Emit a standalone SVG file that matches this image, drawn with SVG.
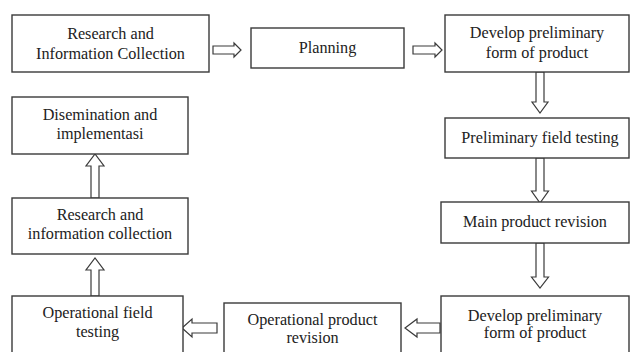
<svg xmlns="http://www.w3.org/2000/svg" width="631" height="352" viewBox="0 0 631 352">
<style>
rect.box{fill:#fff;stroke:#3a3a3a;stroke-width:1.4}
polygon.arr{fill:#fff;stroke:#3a3a3a;stroke-width:1.2;stroke-linejoin:miter}
text{font-family:"Liberation Serif","Times New Roman",serif;font-size:16.2px;fill:#222;text-anchor:middle}
</style>
<rect width="631" height="352" fill="#fff"/>
<g id="connectors">
<polygon class="arr" points="213,46 234,46 234,43 241,50 234,57 234,54 213,54"/>
<polygon class="arr" points="413,46 435,46 435,43 442,50 435,57 435,54 413,54"/>
<polygon class="arr" points="536,72 544,72 544,102 548,102 540,113 532,102 536,102"/>
<polygon class="arr" points="536,158 544,158 544,191 548.5,191 540,203 531.5,191 536,191"/>
<polygon class="arr" points="536,243 544,243 544,277 548.5,277 540,288 531.5,277 536,277"/>
<polygon class="arr" points="440,323 417,323 417,319 405,328 417,337 417,333 440,333"/>
<polygon class="arr" points="217,323 192,323 192,319 182,328 192,337 192,333 217,333"/>
<polygon class="arr" points="91,296 91,270 86,270 95,258 104,270 99,270 99,296"/>
<polygon class="arr" points="91,198 91,166 86,166 95,154 104,166 99,166 99,198"/>
</g>
<g id="n1"><rect class="box" x="12" y="15" width="197" height="57"/><text x="110.5" y="39">Research and</text><text x="110.5" y="59">Information Collection</text></g>
<g id="n2"><rect class="box" x="251" y="28" width="153" height="40"/><text x="327.5" y="53">Planning</text></g>
<g id="n3"><rect class="box" x="445" y="15" width="184" height="57"/><text x="537" y="38">Develop preliminary</text><text x="537" y="58">form of product</text></g>
<g id="n4"><rect class="box" x="445" y="118" width="184" height="40"/><text x="540" y="143">Preliminary field testing</text></g>
<g id="n5"><rect class="box" x="441" y="202" width="188" height="41"/><text x="535" y="227">Main product revision</text></g>
<g id="n6"><rect class="box" x="441" y="296" width="188" height="60"/><text x="535" y="321">Develop preliminary</text><text x="535" y="338">form of product</text></g>
<g id="n7"><rect class="box" x="224" y="303" width="177" height="53"/><text x="312.5" y="325">Operational product</text><text x="312.5" y="343">revision</text></g>
<g id="n8"><rect class="box" x="12" y="296" width="171" height="60"/><text x="97.5" y="318">Operational field</text><text x="97.5" y="337">testing</text></g>
<g id="n9"><rect class="box" x="12" y="198" width="176" height="56"/><text x="100" y="220">Research and</text><text x="100" y="239">information collection</text></g>
<g id="n10"><rect class="box" x="12" y="97" width="176" height="57"/><text x="100" y="120">Disemination and</text><text x="100" y="139">implementasi</text></g>
</svg>
